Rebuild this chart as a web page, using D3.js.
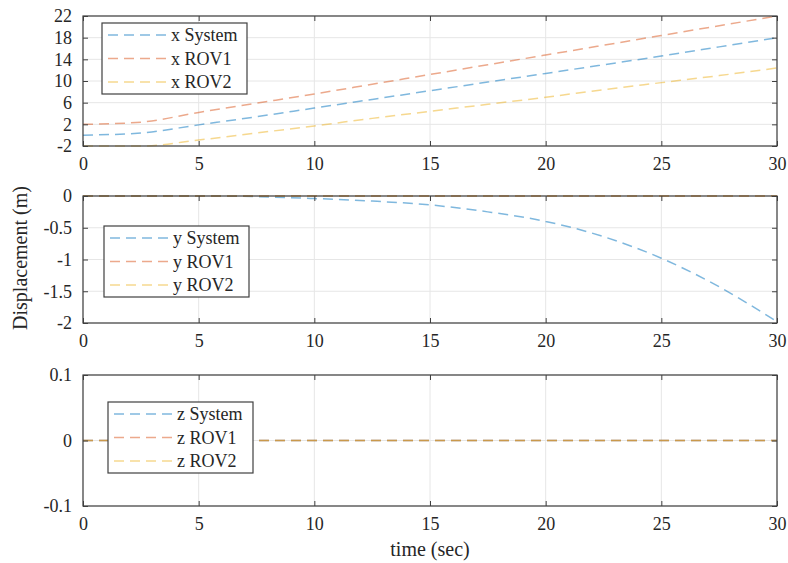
<!DOCTYPE html>
<html>
<head>
<meta charset="utf-8">
<script src="https://cdn.jsdelivr.net/npm/d3@7"></script>
<style>
  body { margin: 0; background: #fff; }
  svg text { font-family: "Liberation Serif", "DejaVu Serif", serif; fill: #262626; }
</style>
</head>
<body>
<svg id="chart" width="788" height="563"></svg>
<script>
// time samples (sec)
const time = [0, 2.5, 5, 7.5, 10, 12.5, 15, 17.5, 20, 22.5, 25, 27.5, 30];

// x displacement
const xSystem = [0, 0.4, 1.9, 3.4, 5.0, 6.6, 8.2, 9.8, 11.4, 13.0, 14.6, 16.3, 18.0];
const xROV1 = [2.0, 2.4, 4.2, 5.9, 7.6, 9.4, 11.2, 13.0, 14.8, 16.6, 18.4, 20.2, 22.0];
const xROV2 = [-2.0, -2.0, -0.9, 0.4, 1.7, 3.1, 4.4, 5.7, 7.0, 8.4, 9.7, 11.0, 12.4];

// y displacement
const ySystem = [0, 0, 0, -0.01, -0.04, -0.08, -0.14, -0.25, -0.40, -0.64, -0.98, -1.43, -1.98];
const yROV1 = [0, 0, 0, 0, 0, 0, 0, 0, 0, 0, 0, 0, 0];
const yROV2 = [0, 0, 0, 0, 0, 0, 0, 0, 0, 0, 0, 0, 0];

// z displacement
const zSystem = [0, 0, 0, 0, 0, 0, 0, 0, 0, 0, 0, 0, 0];
const zROV1 = [0, 0, 0, 0, 0, 0, 0, 0, 0, 0, 0, 0, 0];
const zROV2 = [0, 0, 0, 0, 0, 0, 0, 0, 0, 0, 0, 0, 0];

const xTicks = [0, 5, 10, 15, 20, 25, 30];
const panels = [
  { names: ["x System", "x ROV1", "x ROV2"], series: [xSystem, xROV1, xROV2],
    domain: [-2, 22], ticks: [-2, 2, 6, 10, 14, 18, 22], top: 16, bottom: 146,
    legend: { x: 102, y: 23 } },
  { names: ["y System", "y ROV1", "y ROV2"], series: [ySystem, yROV1, yROV2],
    domain: [-2, 0], ticks: [-2, -1.5, -1, -0.5, 0], top: 196, bottom: 323,
    legend: { x: 104, y: 226 } },
  { names: ["z System", "z ROV1", "z ROV2"], series: [zSystem, zROV1, zROV2],
    domain: [-0.1, 0.1], ticks: [-0.1, 0, 0.1], top: 375, bottom: 506,
    legend: { x: 108, y: 402 } }
];

const colors = ["#0072BD", "#D95319", "#EDB120"];
const left = 83, right = 777;

const svg = d3.select("#chart");
const x = d3.scaleLinear().domain([0, 30]).range([left, right]);

panels.forEach(p => {
  const y = d3.scaleLinear().domain(p.domain).range([p.bottom, p.top]);
  const g = svg.append("g");

  // grid
  g.selectAll(".vgrid").data(xTicks).enter().append("line")
    .attr("x1", d => x(d)).attr("x2", d => x(d))
    .attr("y1", p.top).attr("y2", p.bottom)
    .attr("stroke", "#e6e6e6").attr("stroke-width", 1);
  g.selectAll(".hgrid").data(p.ticks).enter().append("line")
    .attr("x1", left).attr("x2", right)
    .attr("y1", d => y(d)).attr("y2", d => y(d))
    .attr("stroke", "#e6e6e6").attr("stroke-width", 1);

  // lines
  const line = d3.line().x((d, i) => x(time[i])).y(d => y(d)).curve(d3.curveMonotoneX);
  p.series.forEach((s, k) => {
    g.append("path").datum(s)
      .attr("d", line)
      .attr("fill", "none")
      .attr("stroke", colors[k])
      .attr("stroke-opacity", 0.5)
      .attr("stroke-width", 1.5)
      .attr("stroke-dasharray", "10,6");
  });

  // axes with inward ticks (box on)
  const tickLen = 5;
  g.append("g").attr("transform", `translate(0,${p.bottom})`)
    .call(d3.axisBottom(x).tickValues(xTicks).tickSizeInner(-tickLen).tickSizeOuter(0).tickPadding(11).tickFormat(d3.format("d")));
  g.append("g").attr("transform", `translate(0,${p.top})`)
    .call(d3.axisTop(x).tickValues(xTicks).tickSizeInner(-tickLen).tickSizeOuter(0).tickFormat(""));
  g.append("g").attr("transform", `translate(${left},0)`)
    .call(d3.axisLeft(y).tickValues(p.ticks).tickSizeInner(-tickLen).tickSizeOuter(0).tickPadding(11).tickFormat(d => d3.format("")(d).replace("−", "-")));
  g.append("g").attr("transform", `translate(${right},0)`)
    .call(d3.axisRight(y).tickValues(p.ticks).tickSizeInner(-tickLen).tickSizeOuter(0).tickFormat(""));
  g.selectAll(".domain").remove();
  g.selectAll(".tick line").attr("stroke", "#404040");
  g.selectAll(".tick text").attr("font-size", 18).attr("fill", "#333")
    .style("font-family", "'Liberation Serif', serif");

  g.append("rect")
    .attr("x", left).attr("y", p.top)
    .attr("width", right - left).attr("height", p.bottom - p.top)
    .attr("fill", "none").attr("stroke", "#404040").attr("stroke-width", 1.2);

  // legend
  const lg = g.append("g").attr("transform", `translate(${p.legend.x},${p.legend.y})`);
  lg.append("rect").attr("width", 145).attr("height", 71)
    .attr("fill", "#fff").attr("stroke", "#404040").attr("stroke-width", 1.2);
  p.names.forEach((n, k) => {
    const ry = 12 + k * 23.5;
    lg.append("line").attr("x1", 6).attr("x2", 64).attr("y1", ry).attr("y2", ry)
      .attr("stroke", colors[k]).attr("stroke-opacity", 0.5)
      .attr("stroke-width", 1.5).attr("stroke-dasharray", "10,6");
    lg.append("text").attr("x", 69).attr("y", ry).attr("dy", "0.35em")
      .attr("font-size", 18).text(n);
  });
});

// axis labels
svg.append("text")
  .attr("x", 430).attr("y", 556)
  .attr("text-anchor", "middle").attr("font-size", 20)
  .text("time (sec)");
svg.append("text")
  .attr("transform", "translate(27,258) rotate(-90)")
  .attr("text-anchor", "middle").attr("font-size", 20)
  .text("Displacement (m)");
</script>
</body>
</html>
